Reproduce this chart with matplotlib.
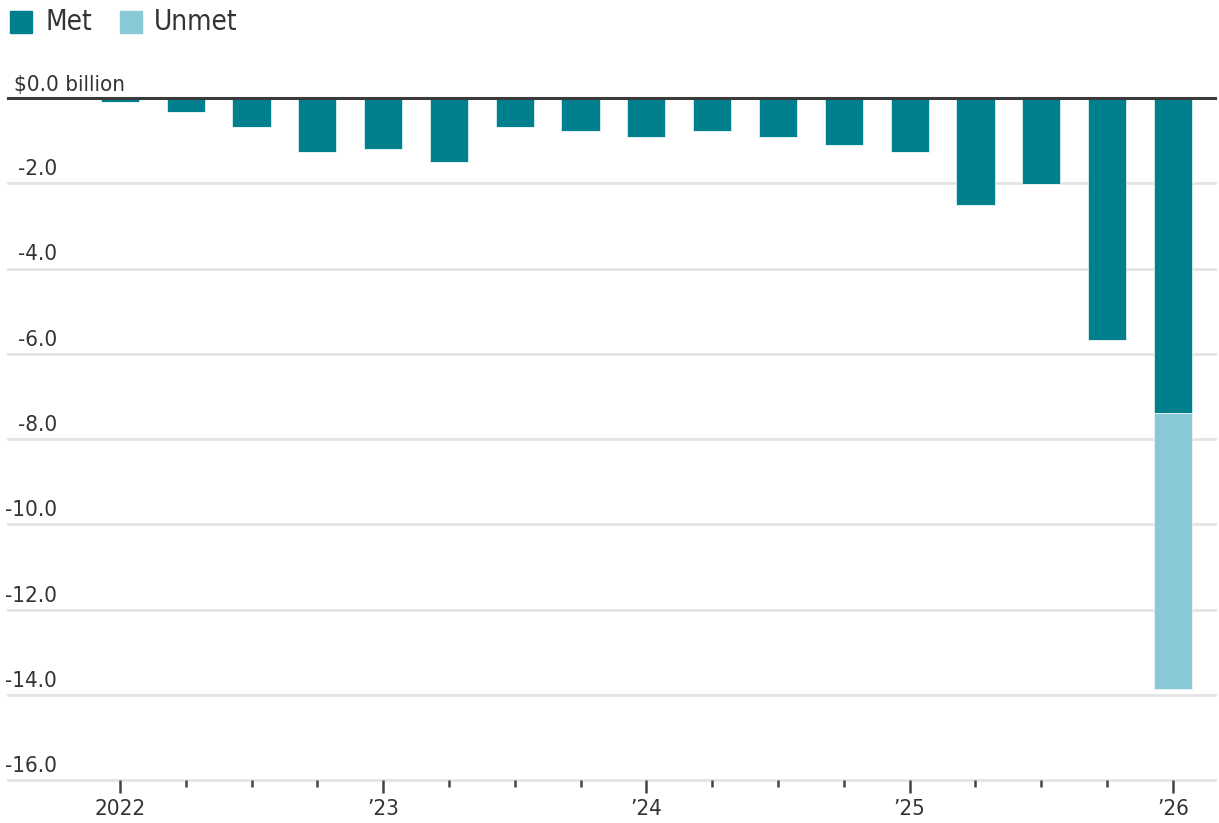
import matplotlib.pyplot as plt
import matplotlib.transforms as mtransforms
from matplotlib import font_manager
import numpy as np

# prefer a narrow face if one is installed
names = {f.name for f in font_manager.fontManager.ttflist}
narrow = [n for n in ['Liberation Sans Narrow', 'DejaVu Sans Condensed'] if n in names]
plt.rcParams['font.family'] = narrow + ['DejaVu Sans']
plt.rcParams['font.stretch'] = 'condensed'

# quarterly shortfalls, 2022 Q1 through 2026 Q1 ($ billion)
quarters = ['2022 Q1', 'Q2', 'Q3', 'Q4',
            '2023 Q1', 'Q2', 'Q3', 'Q4',
            '2024 Q1', 'Q2', 'Q3', 'Q4',
            '2025 Q1', 'Q2', 'Q3', 'Q4',
            '2026 Q1']
met = [-0.1, -0.32, -0.69, -1.27,
       -1.19, -1.51, -0.69, -0.77,
       -0.91, -0.77, -0.91, -1.10,
       -1.27, -2.52, -2.01, -5.67,
       -7.38]
unmet = [0, 0, 0, 0,
         0, 0, 0, 0,
         0, 0, 0, 0,
         0, 0, 0, 0,
         -6.48]
year_labels = ['2022', '’23', '’24', '’25', '’26']
y_ticks = [0, -2, -4, -6, -8, -10, -12, -14, -16]
y_labels = ['$0.0 billion', '-2.0', '-4.0', '-6.0', '-8.0',
            '-10.0', '-12.0', '-14.0', '-16.0']

met_color = '#007f8c'
unmet_color = '#89c8d6'
text_color = '#333333'

W, H = 1219, 823
fig = plt.figure(figsize=(W / 100, H / 100), dpi=100)
ax = fig.add_axes([8 / W, 43 / H, (1215 - 8) / W, (780 - 98) / H])

x = np.arange(len(quarters))
ax.bar(x, met, width=0.58, color=met_color, edgecolor='#d8eef0',
       linewidth=0.6, zorder=3)
ax.bar(x, unmet, bottom=met, width=0.58, color=unmet_color,
       edgecolor='#e8f5f8', linewidth=0.6, zorder=3)

ax.set_xlim(-1.70, 16.64)
ax.set_ylim(-16, 0)

for s in ax.spines.values():
    s.set_visible(False)

# horizontal gridlines with labels sitting just above them
for v in y_ticks[1:]:
    ax.axhline(v, color='#e4e4e4', lw=2, zorder=1, clip_on=False)
ax.axhline(0, color='#3a3a3a', lw=2.2, zorder=4, clip_on=False)

trans = mtransforms.blended_transform_factory(ax.transAxes, ax.transData)
for v, lab in zip(y_ticks, y_labels):
    if v == 0:
        off = mtransforms.offset_copy(trans, fig=fig, x=6, y=3, units='dots')
        ax.text(0, v, lab, transform=off, ha='left', va='bottom',
                fontsize=16, color=text_color)
    else:
        off = mtransforms.offset_copy(trans, fig=fig, x=49, y=4, units='dots')
        ax.text(0, v, lab, transform=off, ha='right', va='bottom',
                fontsize=16, color=text_color)

# quarter ticks, longer ones at the start of each year
ax.set_yticks([])
ax.set_xticks(x[::4])
ax.set_xticklabels(year_labels, fontsize=16, color=text_color)
ax.set_xticks(x, minor=True)
ax.tick_params(axis='x', which='major', length=9, width=1.8,
               color='#444444', pad=5, direction='out')
ax.tick_params(axis='x', which='minor', length=5, width=1.8,
               color='#444444', direction='out')

# legend
fig.patches.append(plt.Rectangle((10 / W, 1 - 33 / H), 22 / W, 22 / H,
                                 transform=fig.transFigure, color=met_color))
fig.text(45 / W, 1 - 22 / H, 'Met', fontsize=20, color=text_color,
         va='center', ha='left')
fig.patches.append(plt.Rectangle((120 / W, 1 - 33 / H), 22 / W, 22 / H,
                                 transform=fig.transFigure, color=unmet_color))
fig.text(154 / W, 1 - 22 / H, 'Unmet', fontsize=20, color=text_color,
         va='center', ha='left')

fig.savefig('out.png', dpi=100)
